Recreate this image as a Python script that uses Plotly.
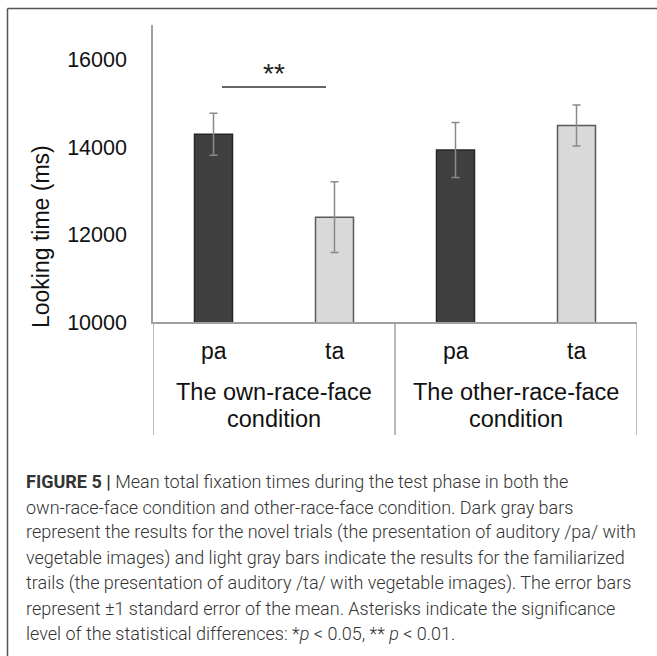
import plotly.graph_objects as go

# ---------------- data ----------------
conditions = ["The own-race-face condition", "The other-race-face condition"]
condition_label_lines = [["The own-race-face", "condition"], ["The other-race-face", "condition"]]
syllables = ["pa", "ta"]
pa_means = [14300, 13940]
pa_se = [480, 630]
ta_means = [12400, 14500]
ta_se = [810, 470]
y_ticks = [10000, 12000, 14000, 16000]
y_tick_labels = ["10000", "12000", "14000", "16000"]
y_range = [10000, 16800]
y_title = "Looking time (ms)"
sig_label = "**"
sig_level = 15380
caption_lines = [
    "<b>FIGURE 5 |</b> Mean total fixation times during the test phase in both the",
    "own-race-face condition and other-race-face condition. Dark gray bars",
    "represent the results for the novel trials (the presentation of auditory /pa/ with",
    "vegetable images) and light gray bars indicate the results for the familiarized",
    "trails (the presentation of auditory /ta/ with vegetable images). The error bars",
    "represent \u00b11 standard error of the mean. Asterisks indicate the significance",
    "level of the statistical differences: *<i>p</i> &lt; 0.05, ** <i>p</i> &lt; 0.01.",
]

# ---------------- layout geometry (pixels) ----------------
W, H = 657, 656
L, R, T, B = 153, 20, 25, 334
PW = W - L - R
PH = H - T - B


def px_x(px):
    return (px - L) / PW


def px_y(py):
    return 1 - (py - T) / PH


FONT = "Liberation Sans, Arial, sans-serif"
AXIS_COL = "#a0a0a0"
TXT = "#111111"

fig = go.Figure()
fig.add_trace(go.Bar(
    x=conditions, y=pa_means, name=syllables[0],
    marker=dict(color="#404040", line=dict(color="#262626", width=1.5)),
    error_y=dict(type="data", array=pa_se, color="#8a8a8a", thickness=1.5, width=4),
))
fig.add_trace(go.Bar(
    x=conditions, y=ta_means, name=syllables[1],
    marker=dict(color="#d9d9d9", line=dict(color="#5a5a5a", width=1.5)),
    error_y=dict(type="data", array=ta_se, color="#8a8a8a", thickness=1.5, width=4),
))

fig.update_layout(
    width=W, height=H,
    margin=dict(l=L, r=R, t=T, b=B, pad=0),
    paper_bgcolor="white", plot_bgcolor="white",
    barmode="group", bargap=0.0, bargroupgap=0.686,
    showlegend=False,
    font=dict(family=FONT, color=TXT),
)
fig.update_xaxes(
    type="category", range=[-0.5, 1.5], showticklabels=False, ticks="",
    showline=True, linecolor=AXIS_COL, linewidth=1.5, showgrid=False, zeroline=False,
)
fig.update_yaxes(
    range=y_range, tickvals=y_ticks, ticktext=y_tick_labels, ticks="",
    showgrid=False, zeroline=False,
    showline=True, linecolor=AXIS_COL, linewidth=1.5,
    tickfont=dict(family=FONT, size=21.5, color=TXT), ticklabelstandoff=20,
)

annotations = []
for gi in range(len(conditions)):
    for si, s in enumerate(syllables):
        annotations.append(dict(
            x=gi - 0.25 + 0.5 * si, xref="x", y=px_y(351), yref="paper",
            text=s, showarrow=False, font=dict(family=FONT, size=23, color=TXT),
            xanchor="center", yanchor="middle",
        ))
    for li, txt in enumerate(condition_label_lines[gi]):
        annotations.append(dict(
            x=gi, xref="x", y=px_y(392 + 27 * li), yref="paper",
            text=txt, showarrow=False, font=dict(family=FONT, size=23.5, color=TXT),
            xanchor="center", yanchor="middle",
        ))

# y-axis title
annotations.append(dict(
    x=px_x(41), xref="paper", y=px_y(237), yref="paper", text=y_title, textangle=-90,
    showarrow=False, font=dict(family=FONT, size=23, color=TXT),
    xanchor="center", yanchor="middle",
))

# significance marker
annotations.append(dict(
    x=0, xref="x", y=px_y(73), yref="paper", text=sig_label, showarrow=False,
    font=dict(family=FONT, size=28, color="#222"), xanchor="center", yanchor="middle",
))

# caption lines
cap_y0, cap_dy = 481.7, 25.38
for i, line in enumerate(caption_lines):
    annotations.append(dict(
        x=px_x(24), xref="paper", y=px_y(cap_y0 + i * cap_dy), yref="paper",
        text=line, showarrow=False, align="left", xanchor="left", yanchor="middle",
        font=dict(family="Roboto, sans-serif", size=18, color="#333333", weight=300),
    ))

fig.update_layout(annotations=annotations)

shapes = []
for xv in [-0.5, 0.5, 1.5]:
    shapes.append(dict(type="line", xref="x", yref="paper", x0=xv, x1=xv,
                       y0=0, y1=px_y(435), line=dict(color=AXIS_COL, width=1.5)))
shapes.append(dict(type="line", xref="x", yref="y", x0=-0.215, x1=0.215,
                   y0=sig_level, y1=sig_level, line=dict(color="#333", width=1.5)))
# outer frame (top and left)
shapes.append(dict(type="line", xref="paper", yref="paper", x0=px_x(7.5), x1=px_x(660),
                   y0=px_y(8.5), y1=px_y(8.5), line=dict(color="#555", width=1.5)))
shapes.append(dict(type="line", xref="paper", yref="paper", x0=px_x(7.5), x1=px_x(7.5),
                   y0=px_y(8.5), y1=px_y(660), line=dict(color="#555", width=1.5)))
fig.update_layout(shapes=shapes)

fig.write_html("out.html", config={"displayModeBar": False},
               post_script="document.body.style.margin='0';")
